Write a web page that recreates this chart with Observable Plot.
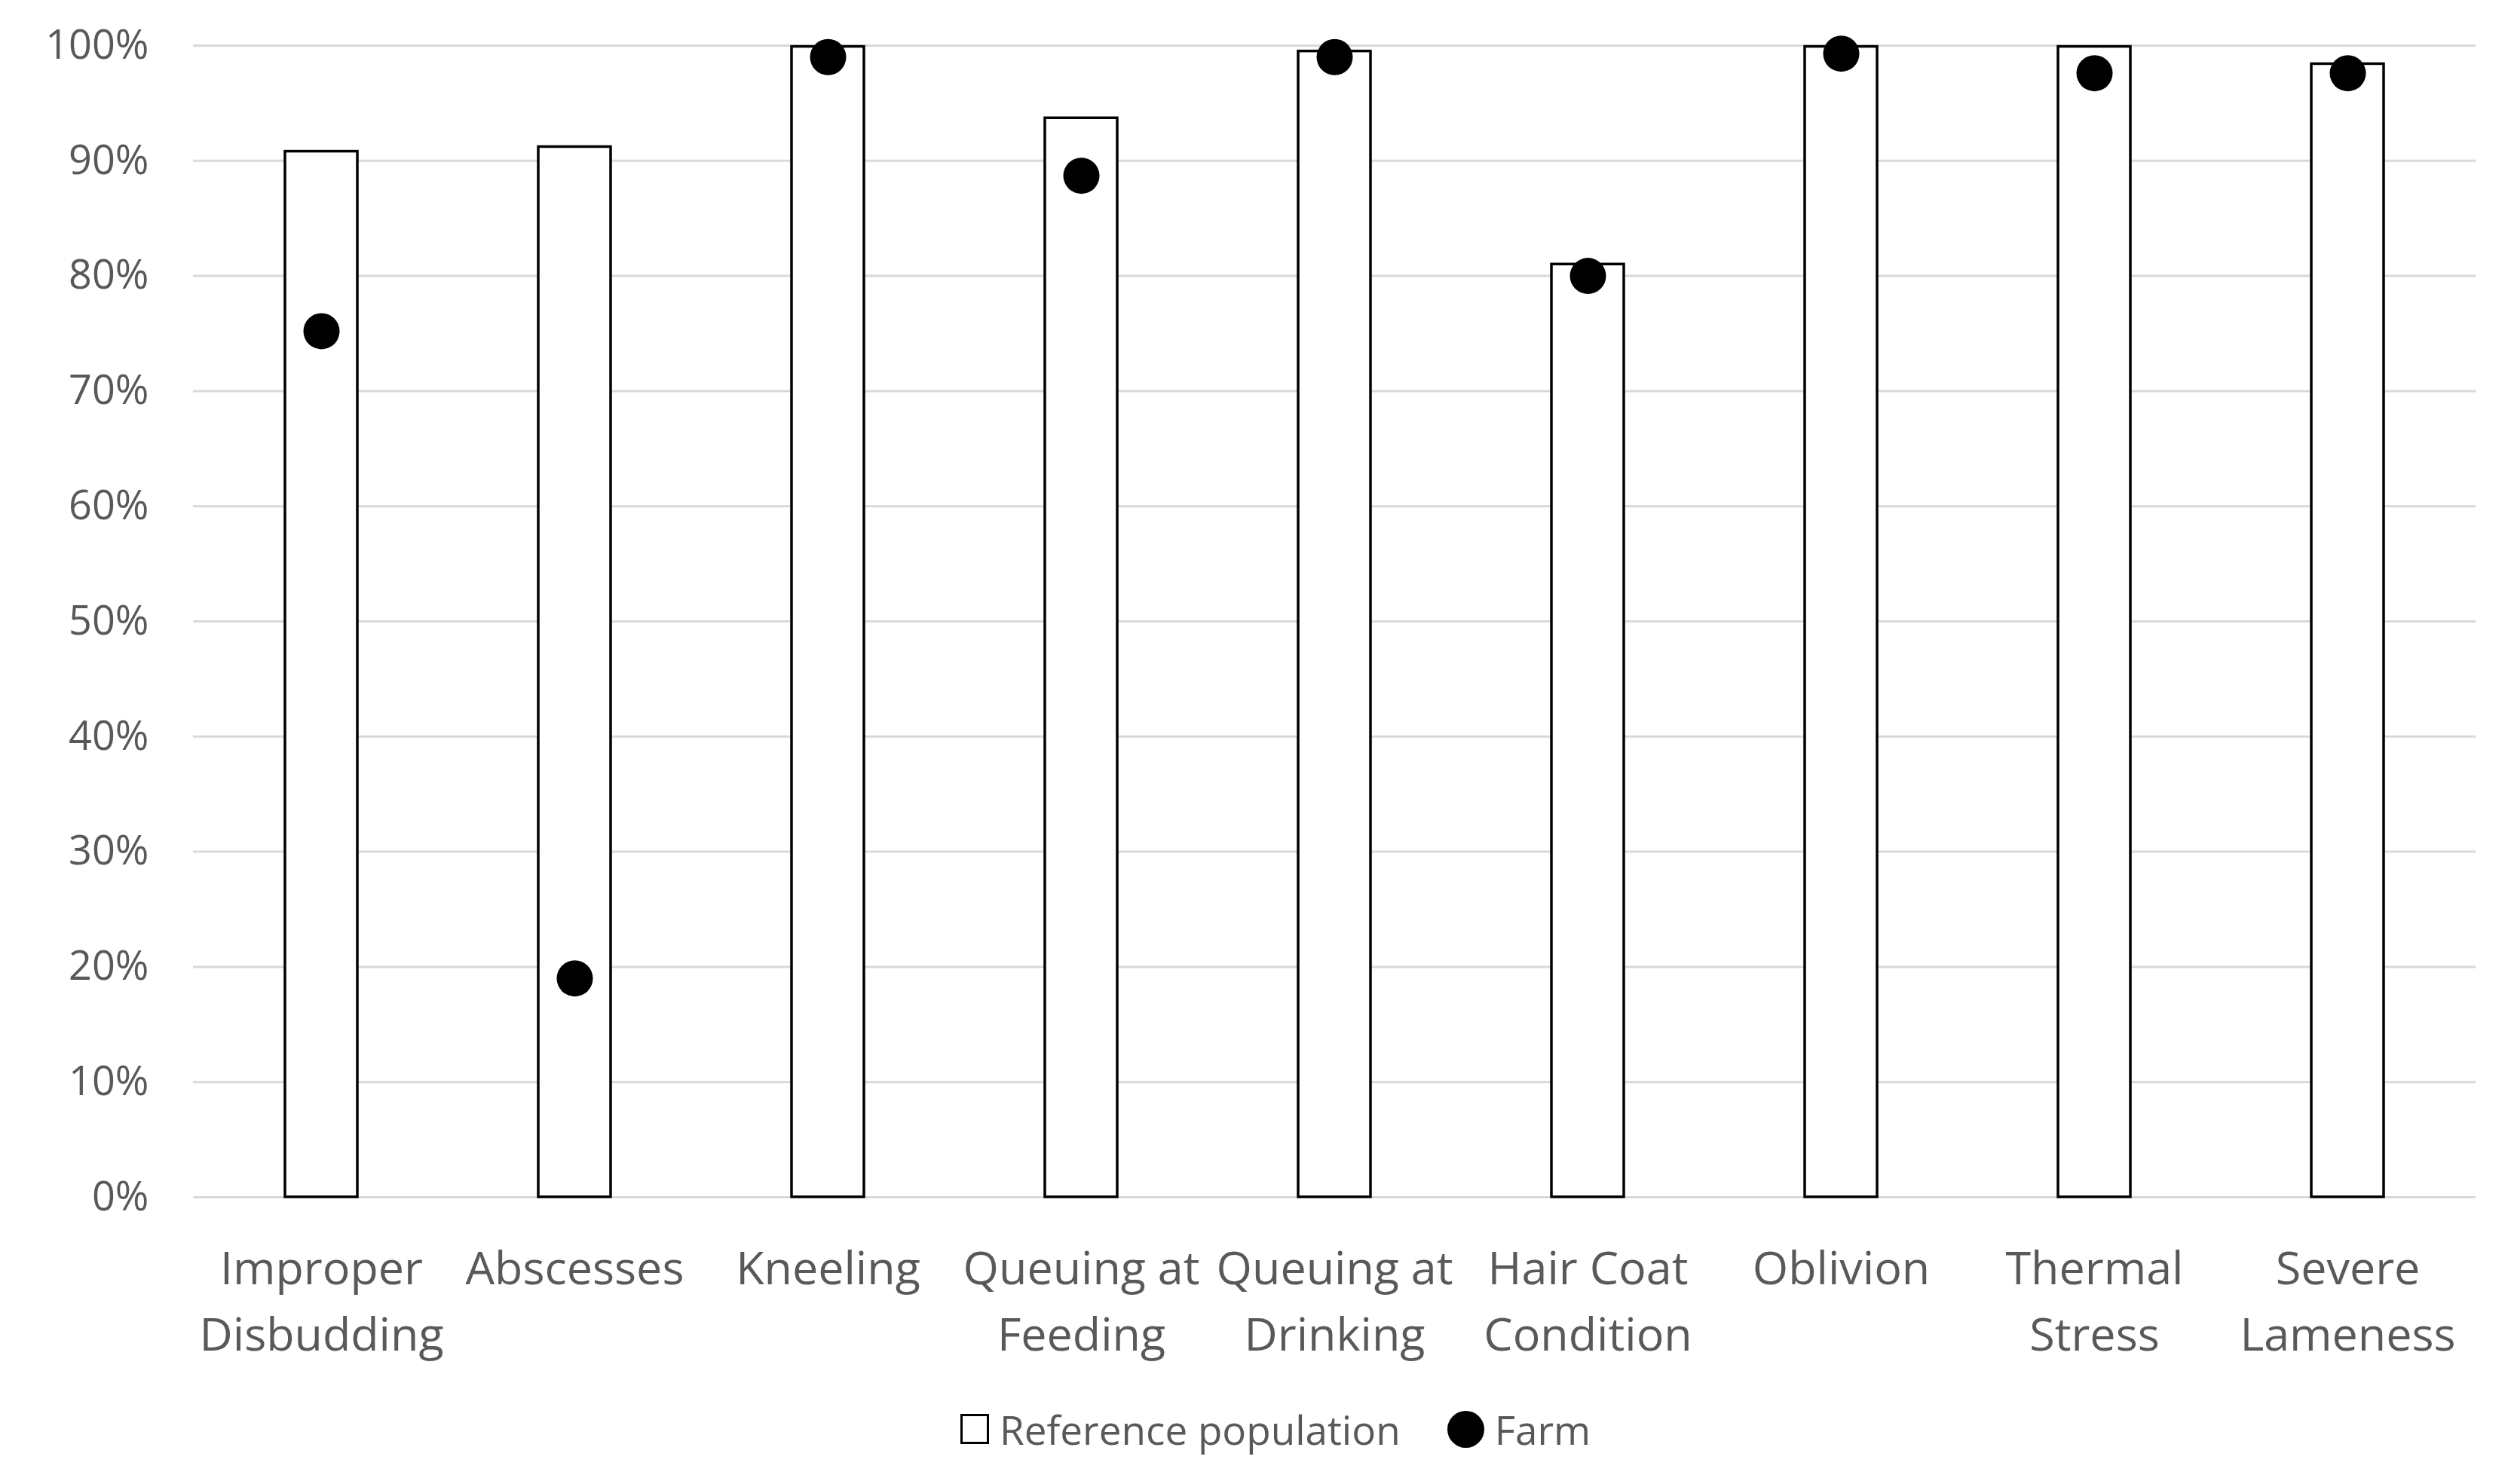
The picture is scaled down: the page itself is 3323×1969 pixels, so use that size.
<!DOCTYPE html>
<html>
<head>
<meta charset="utf-8">
<script src="https://cdn.jsdelivr.net/npm/d3@7"></script>
<script src="https://cdn.jsdelivr.net/npm/@observablehq/plot@0.6"></script>
<style>
  html, body { margin: 0; padding: 0; background: #ffffff; }
  #chart svg { display: block; }
  #legend {
    display: flex; align-items: center; height: 80px; margin-top: 16px;
    padding-left: 1274px; font-family: "Open Sans", sans-serif; font-size: 53px; color: #595959;
  }
  .sw-box { width: 32px; height: 34px; border: 3px solid #000; background: #fff; box-sizing: content-box; margin-right: 14px; }
  .sw-dot { width: 49px; height: 49px; border-radius: 50%; background: #000; margin-left: 62px; margin-right: 14px; }
</style>
</head>
<body>
<div id="chart"></div>
<div id="legend">
  <span class="sw-box"></span><span>Reference population</span>
  <span class="sw-dot"></span><span>Farm</span>
</div>
<script>
const categories = [
  "Improper\nDisbudding", "Abscesses", "Kneeling", "Queuing at\nFeeding",
  "Queuing at\nDrinking", "Hair Coat\nCondition", "Oblivion", "Thermal\nStress", "Severe\nLameness"
];
const referencePopulation = [90.8, 91.2, 99.9, 93.7, 99.5, 81.0, 99.9, 99.9, 98.4];
const farm = [75.2, 19.0, 99.0, 88.7, 99.0, 80.0, 99.3, 97.6, 97.6];
const yTicks = [0, 10, 20, 30, 40, 50, 60, 70, 80, 90, 100];

const data = categories.map((c, i) => ({category: c, ref: referencePopulation[i], farm: farm[i]}));

const chart = Plot.plot({
  width: 3323,
  height: 1840,
  marginTop: 60,
  marginBottom: 252,
  marginLeft: 256,
  marginRight: 39,
  style: {fontFamily: "'Open Sans', sans-serif", background: "#ffffff"},
  x: {domain: categories, paddingInner: 0.714, paddingOuter: 0.357, label: null},
  y: {domain: [0, 100], label: null},
  marks: [
    Plot.ruleY(yTicks, {stroke: "#d9d9d9", strokeWidth: 3}),
    Plot.barY(data, {x: "category", y: "ref", fill: "white", stroke: "black", strokeWidth: 3.5}),
    Plot.dot(data, {x: "category", y: "farm", r: 24, fill: "black", stroke: "none"}),
    Plot.axisY({ticks: yTicks, tickFormat: d => d + "%", tickSize: 0, tickPadding: 59, fontSize: 54, fill: "#595959", label: null}),
    Plot.axisX({tickSize: 0, tickPadding: 54, fontSize: 61, fill: "#595959", lineHeight: 1.43, label: null})
  ]
});
document.getElementById("chart").appendChild(chart);
</script>
</body>
</html>
